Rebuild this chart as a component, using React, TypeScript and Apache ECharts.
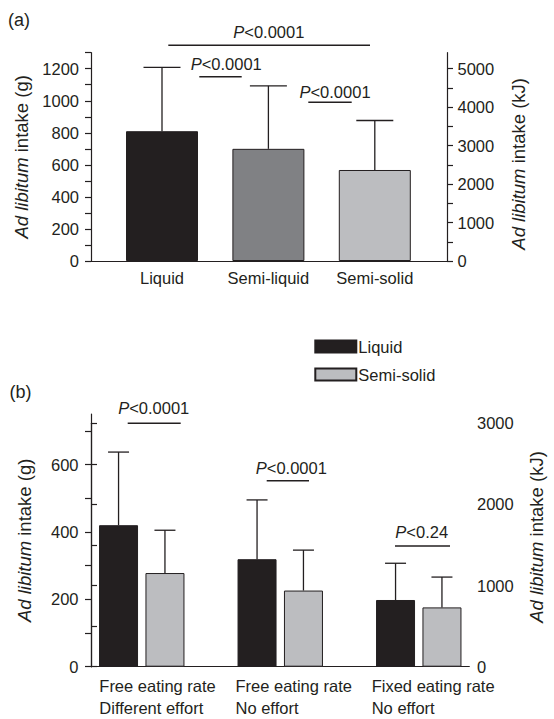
import React, { useEffect, useRef } from 'react';
import * as echarts from 'echarts';

// ---------- data ----------
const panelACategories = ['Liquid', 'Semi-liquid', 'Semi-solid'];
const panelAMeans = [810, 700, 568];
const panelASD = [398, 393, 309];
const panelAColors = ['#231f20', '#808184', '#bcbdc0'];

const panelBCategories = [
  'Free eating rate\nDifferent effort',
  'Free eating rate\nNo effort',
  'Fixed eating rate\nNo effort',
];
const liquidMeans = [420, 319, 198];
const liquidSD = [217, 176, 109];
const semiSolidMeans = [278, 226, 176];
const semiSolidSD = [127, 120, 90];

const aLeftLabels = [0, 200, 400, 600, 800, 1000, 1200];
const aRightTicks = [0, 500, 1000, 1500, 2000, 2500, 3000, 3500, 4000, 4500, 5000];
const aRightLabels = [0, 1000, 2000, 3000, 4000, 5000];
const bLeftTicks = [0, 100, 200, 300, 400, 500, 600, 700];
const bLeftLabels = [0, 200, 400, 600];
const bRightLabels = [0, 1000, 2000, 3000];

const pLabels = ['<0.0001', '<0.0001', '<0.0001', '<0.0001', '<0.0001', '<0.24'];

// ---------- style ----------
const INK = '#231f20';
const FONT = '"Liberation Sans", Arial, Helvetica, sans-serif';
const FS = 16.5;
const TITLE_FS = 18.5;

const titleRich = {
  i: { fontStyle: 'italic', fontSize: TITLE_FS, fontFamily: FONT, color: INK },
  n: { fontSize: TITLE_FS, fontFamily: FONT, color: INK },
};

function errorSeries(name: string, xIdx: number, yIdx: number, means: number[], sds: number[], offset: number, capHalf: number) {
  return {
    type: 'custom',
    name,
    xAxisIndex: xIdx,
    yAxisIndex: yIdx,
    z: 5,
    silent: true,
    data: means.map((m, i) => [i, m, m + sds[i]]),
    encode: { x: 0, y: [1, 2] },
    renderItem: (_p: any, api: any) => {
      const i = api.value(0);
      const p0 = api.coord([i, api.value(1)]);
      const p1 = api.coord([i, api.value(2)]);
      const x = p0[0] + offset;
      const st = { stroke: INK, lineWidth: 1.3 };
      return {
        type: 'group',
        children: [
          { type: 'line', shape: { x1: x, y1: p0[1], x2: x, y2: p1[1] }, style: st },
          { type: 'line', shape: { x1: x - capHalf, y1: p1[1], x2: x + capHalf, y2: p1[1] }, style: st },
        ],
      };
    },
  };
}

function pText(x: number, y: number, label: string) {
  return {
    type: 'text',
    x,
    y,
    style: {
      text: `{i|P}{n|${label}}`,
      align: 'center',
      verticalAlign: 'middle',
      rich: {
        i: { fontStyle: 'italic', fontSize: FS, fontFamily: FONT, fill: INK, color: INK },
        n: { fontSize: FS, fontFamily: FONT, fill: INK, color: INK },
      },
    },
  };
}

function sigLine(x1: number, x2: number, y: number) {
  return { type: 'line', shape: { x1, y1: y, x2, y2: y }, style: { stroke: INK, lineWidth: 1.6 } };
}

const hiddenAxisBits = {
  axisLine: { show: false },
  axisTick: { show: false },
  axisLabel: { show: false },
  splitLine: { show: false },
};

const plain = (v: number) => String(v);

export default function App() {
  const ref = useRef<HTMLDivElement>(null);

  useEffect(() => {
    if (!ref.current) return;
    const chart = echarts.init(ref.current, undefined, { renderer: 'svg' });

    const axisLineStyle = { lineStyle: { color: INK, width: 1.2 } };
    const tickStyle = { length: 6, inside: false, lineStyle: { color: INK, width: 1.2 } };
    const labelStyle = { color: INK, fontSize: FS, fontFamily: FONT };

    const option: any = {
      animation: false,
      textStyle: { fontFamily: FONT, color: INK },
      grid: [
        { left: 91, right: 107, top: 52.7, bottom: 458 }, // 0: panel a axes
        { left: 108.8, right: 126, top: 52.7, bottom: 458 }, // 1: panel a bars
        { left: 91, right: 84.7, top: 414, bottom: 52.3 }, // 2: panel b left axis
        { left: 91, right: 84.7, top: 423.3, bottom: 52.3 }, // 3: panel b right axis
        { left: 72.5, right: 66, top: 414, bottom: 52.3 }, // 4: panel b bars
        { left: 31.2, right: 114.2, top: 414, bottom: 52.3 }, // 5: panel b labels
      ],
      xAxis: [
        { gridIndex: 0, type: 'value', min: 0, max: 1, ...hiddenAxisBits, axisLine: { show: true, ...axisLineStyle } },
        {
          gridIndex: 1, type: 'category', data: panelACategories,
          axisLine: { show: false }, axisTick: { show: false }, splitLine: { show: false },
          axisLabel: { ...labelStyle, margin: 8, interval: 0, hideOverlap: false },
        },
        { gridIndex: 2, type: 'value', min: 0, max: 1, ...hiddenAxisBits, axisLine: { show: true, ...axisLineStyle } },
        { gridIndex: 3, type: 'value', min: 0, max: 1, show: false },
        { gridIndex: 4, type: 'category', data: panelBCategories, ...hiddenAxisBits },
        {
          gridIndex: 5, type: 'category', data: panelBCategories,
          axisLine: { show: false }, axisTick: { show: false }, splitLine: { show: false },
          axisLabel: { ...labelStyle, align: 'left', margin: 10, lineHeight: 22, interval: 0, hideOverlap: false },
        },
      ],
      yAxis: [
        {
          gridIndex: 0, type: 'value', position: 'left', min: 0, max: 1300, interval: 100,
          axisLine: { show: true, ...axisLineStyle }, axisTick: { show: true, ...tickStyle },
          splitLine: { show: false },
          axisLabel: {
            ...labelStyle, margin: 12,
            formatter: (v: number) => (aLeftLabels.includes(v) ? String(v) : ''),
          },
          name: '{i|Ad libitum} {n|intake (g)}', nameLocation: 'middle', nameRotate: 90, nameGap: 57,
          nameTextStyle: { fontSize: TITLE_FS, fontFamily: FONT, color: INK, rich: titleRich },
        },
        {
          gridIndex: 0, type: 'value', position: 'right', min: 0, max: (1300 * 5000) / 1200,
          axisLine: { show: true, ...axisLineStyle },
          axisTick: { show: true, ...tickStyle, customValues: aRightTicks },
          splitLine: { show: false },
          axisLabel: { ...labelStyle, margin: 10.5, customValues: aRightLabels, formatter: plain },
          name: '{i|Ad libitum} {n|intake (kJ)}', nameLocation: 'middle', nameRotate: 90, nameGap: 62,
          nameTextStyle: { fontSize: TITLE_FS, fontFamily: FONT, color: INK, rich: titleRich, padding: [0, 14, 0, 0] },
        },
        { gridIndex: 1, type: 'value', min: 0, max: 1300, ...hiddenAxisBits },
        {
          gridIndex: 2, type: 'value', position: 'left', min: 0, max: 750,
          axisLine: { show: true, ...axisLineStyle },
          axisTick: { show: true, ...tickStyle, customValues: bLeftTicks },
          splitLine: { show: false },
          axisLabel: { ...labelStyle, margin: 12.5, customValues: bLeftLabels, formatter: plain },
          name: '{i|Ad libitum} {n|intake (g)}', nameLocation: 'middle', nameRotate: 90, nameGap: 57,
          nameTextStyle: { fontSize: TITLE_FS, fontFamily: FONT, color: INK, rich: titleRich },
        },
        {
          gridIndex: 3, type: 'value', position: 'right', min: 0, max: 3000, interval: 500,
          axisLine: { show: true, ...axisLineStyle }, axisTick: { show: true, ...tickStyle },
          splitLine: { show: false },
          axisLabel: {
            ...labelStyle, margin: 13,
            formatter: (v: number) => (bRightLabels.includes(v) ? String(v) : ''),
          },
          name: '{i|Ad libitum} {n|intake (kJ)}', nameLocation: 'middle', nameRotate: 90, nameGap: 63,
          nameTextStyle: { fontSize: TITLE_FS, fontFamily: FONT, color: INK, rich: titleRich, padding: [0, 0, 0, 16] },
        },
        { gridIndex: 4, type: 'value', min: 0, max: 750, ...hiddenAxisBits },
        { gridIndex: 5, type: 'value', min: 0, max: 750, ...hiddenAxisBits },
      ],
      legend: {
        data: ['Liquid', 'Semi-solid'],
        orient: 'vertical',
        left: 309.3,
        top: 333,
        itemWidth: 41,
        itemHeight: 12,
        itemGap: 11,
        selectedMode: false,
        icon: 'rect',
        textStyle: { color: INK, fontSize: FS, fontFamily: FONT, padding: [0, 0, 0, -3] },
      },
      series: [
        {
          type: 'bar', name: 'Intake', xAxisIndex: 1, yAxisIndex: 2, barWidth: 72,
          data: panelAMeans.map((v, i) => ({
            value: v,
            itemStyle: { color: panelAColors[i], borderColor: INK, borderWidth: 1 },
          })),
        },
        errorSeries('Intake SD', 1, 2, panelAMeans, panelASD, 0, 18.5),
        {
          type: 'bar', name: 'Liquid', xAxisIndex: 4, yAxisIndex: 5, barWidth: 39, barGap: '19%',
          itemStyle: { color: '#231f20', borderColor: INK, borderWidth: 1 },
          data: liquidMeans,
        },
        {
          type: 'bar', name: 'Semi-solid', xAxisIndex: 4, yAxisIndex: 5, barWidth: 39, barGap: '19%',
          itemStyle: { color: '#bcbdc0', borderColor: INK, borderWidth: 1 },
          data: semiSolidMeans,
        },
        errorSeries('Liquid SD', 4, 5, liquidMeans, liquidSD, -23.2, 10.5),
        errorSeries('Semi-solid SD', 4, 5, semiSolidMeans, semiSolidSD, 23.2, 10.5),
      ],
      graphic: [
        { type: 'text', x: 8, y: 20, style: { text: '(a)', fontSize: 18, fontFamily: FONT, fill: INK, verticalAlign: 'middle' } },
        { type: 'text', x: 9.5, y: 391.7, style: { text: '(b)', fontSize: 18, fontFamily: FONT, fill: INK, verticalAlign: 'middle' } },
        pText(268.8, 31.7, pLabels[0]),
        sigLine(168.3, 370, 45.3),
        pText(226.2, 64, pLabels[1]),
        sigLine(199.3, 241.7, 76.7),
        pText(335, 92.3, pLabels[2]),
        sigLine(308.3, 351.7, 102.3),
        pText(153.7, 408.3, pLabels[3]),
        sigLine(127.7, 180.7, 423.3),
        pText(291.3, 468, pLabels[4]),
        sigLine(266.7, 309, 480.7),
        pText(421.7, 531.7, pLabels[5]),
        sigLine(395, 450, 546),
      ],
    };

    chart.setOption(option);
    return () => chart.dispose();
  }, []);

  return (
    <div
      ref={ref}
      style={{ position: 'fixed', left: 0, top: 0, width: 554, height: 719, background: '#ffffff' }}
    />
  );
}
